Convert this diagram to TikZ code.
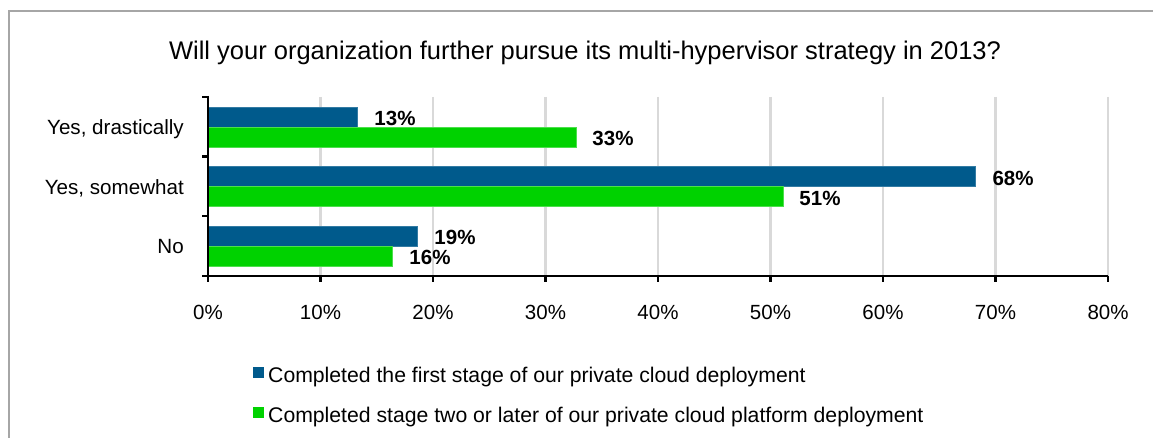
\documentclass[tikz,border=0pt]{standalone}
\usepackage{fontspec}
\setmainfont{Liberation Sans}
\definecolor{barblue}{RGB}{0,90,140}
\definecolor{bargreen}{RGB}{0,210,0}
\definecolor{gridgray}{RGB}{217,217,217}
\definecolor{framegray}{RGB}{166,166,166}
\begin{document}
\begin{tikzpicture}[x=1pt,y=-1pt,
  lbl/.style={inner sep=0pt,font=\fontsize{20.6}{24}\selectfont},
  leg/.style={inner sep=0pt,font=\fontsize{21.2}{25}\selectfont},
  val/.style={inner sep=0pt,anchor=base,font=\fontsize{20.5}{24}\selectfont\bfseries},
  tick/.style={inner sep=0pt,anchor=base,font=\fontsize{20.5}{24}\selectfont},
  bluebar/.style={fill=barblue,draw=barblue!80!white,line width=0.6pt},
  greenbar/.style={fill=bargreen,draw=bargreen!70!white,line width=0.6pt},
  grid/.style={draw=gridgray,line width=2.2pt},
  axis/.style={draw=black,line width=2.2pt}]
\useasboundingbox (0,0) rectangle (1153,438);
\fill[white] (0,0) rectangle (1153,438);
% frame
\draw[framegray,line width=1.5pt] (9,445) -- (9,11) -- (1160,11);
% title
\node[inner sep=0pt,anchor=base,font=\fontsize{25.5}{30}\selectfont] (title) at (585,60)
  {Will your organization further pursue its multi-hypervisor strategy in 2013?};
% gridlines
\foreach \i in {1,...,8}{
  \draw[grid] ({208+\i*112.5},97) -- ({208+\i*112.5},276);
}
% bars
\draw[bluebar]  (208,107) rectangle (357,127);
\draw[greenbar] (208,127) rectangle (576,147);
\draw[bluebar]  (208,166.5) rectangle (975,186.5);
\draw[greenbar] (208,186.5) rectangle (783,206.5);
\draw[bluebar]  (208,226) rectangle (417,246);
\draw[greenbar] (208,246) rectangle (392,266);
% axes
\draw[axis] (208,96) -- (208,276) -- (1108,276);
\foreach \y in {97,156.5,216,276}{
  \draw[axis] (202,\y) -- (208,\y);
}
\foreach \i in {0,...,8}{
  \draw[axis] ({208+\i*112.5},276) -- ({208+\i*112.5},282);
  \pgfmathtruncatemacro{\p}{\i*10}
  \node[tick] (t\i) at ({208+\i*112.5},319) {\p\%};
}
% category labels
\node[lbl,anchor=base east] (c1) at (184,135) {Yes, drastically};
\node[lbl,anchor=base east] (c2) at (184,195) {Yes, somewhat};
\node[lbl,anchor=base east] (c3) at (184,254) {No};
% value labels
\node[val] (v1) at (395,125.5) {13\%};
\node[val] (v2) at (613,145.5) {33\%};
\node[val] (v3) at (1013,185.5) {68\%};
\node[val] (v4) at (820,205.5) {51\%};
\node[val] (v5) at (455,244.5) {19\%};
\node[val] (v6) at (430,264.5) {16\%};
% legend
\fill[barblue] (253,367) rectangle (264,378);
\node[leg,anchor=base west] (l1) at (268,382.5) {Completed the first stage of our private cloud deployment};
\fill[bargreen] (253,406.5) rectangle (264,417.5);
\node[leg,anchor=base west] (l2) at (268,422) {Completed stage two or later of our private cloud platform deployment};
\end{tikzpicture}
\end{document}
